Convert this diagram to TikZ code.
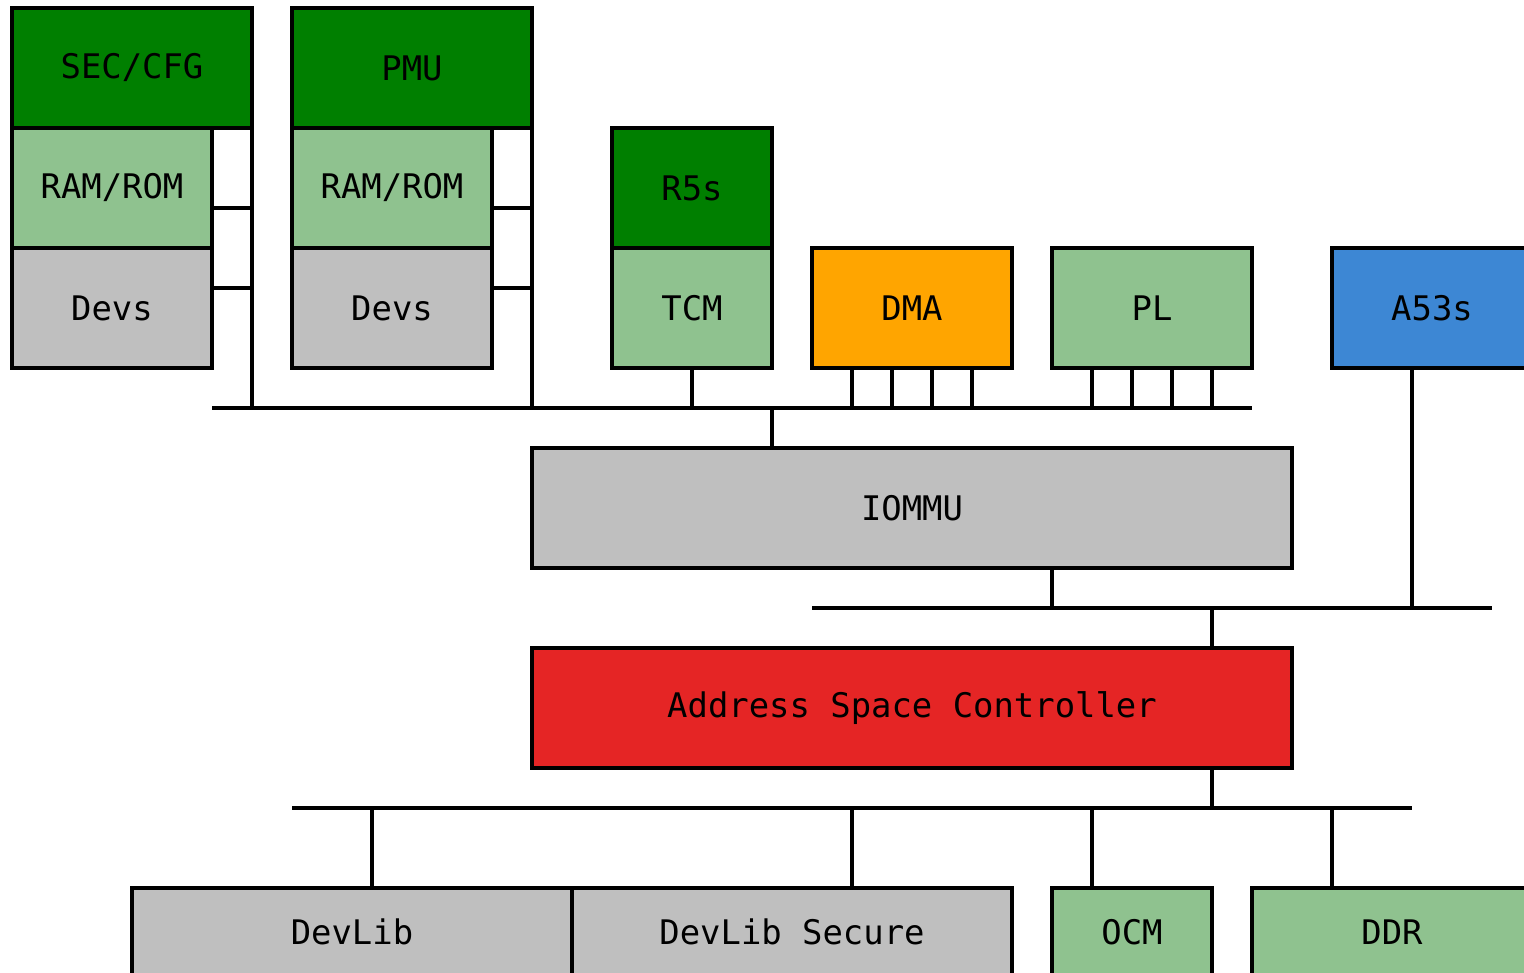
\documentclass[tikz,border=0pt]{standalone}
\usepackage{fontspec}
\setmonofont{DejaVu Sans Mono}
\usetikzlibrary{calc}
\definecolor{secgreen}{HTML}{007F00}
\definecolor{memgreen}{HTML}{8FC28F}
\definecolor{devgray}{HTML}{BFBFBF}
\definecolor{dmaorange}{HTML}{FFA500}
\definecolor{apublue}{HTML}{3D87D4}
\definecolor{ascred}{HTML}{E52525}
\tikzset{
  blk/.style={draw, rectangle, anchor=north west, inner sep=0pt, outer sep=0pt,
    line width=1.1pt, font=\ttfamily\fontsize{12.05}{14}\selectfont},
  wire/.style={line width=1.1pt}
}

\begin{document}
\begin{tikzpicture}[x=0.5cm, y=-0.5cm]
\useasboundingbox (-0.3,-0.2) rectangle (37.8,24.125);
\clip (-0.3,-0.2) rectangle (37.8,24.125);
% Subsystems on the left
    \node[blk, fill=secgreen, minimum width=3cm, minimum height=1.5cm] (sec) at (0,0) {SEC/CFG};
    \node[blk, fill=memgreen, minimum width=2.5cm, minimum height=1.5cm] (ram1) at (0,3) {RAM/ROM};
    \node[blk, fill=devgray, minimum width=2.5cm, minimum height=1.5cm] (devs1) at (0,6) {Devs};
    \node[blk, fill=secgreen, minimum width=3cm, minimum height=1.5cm] (pmu) at (7,0) {PMU};
    \node[blk, fill=memgreen, minimum width=2.5cm, minimum height=1.5cm] (ram2) at (7,3) {RAM/ROM};
    \node[blk, fill=devgray, minimum width=2.5cm, minimum height=1.5cm] (devs2) at (7,6) {Devs};
% Masters
    \node[blk, fill=secgreen, minimum width=2cm, minimum height=1.5cm] (r5s) at (15,3) {R5s};
    \node[blk, fill=memgreen, minimum width=2cm, minimum height=1.5cm] (tcm) at (15,6) {TCM};
    \node[blk, fill=dmaorange, minimum width=2.5cm, minimum height=1.5cm] (dma) at (20,6) {DMA};
    \node[blk, fill=memgreen, minimum width=2.5cm, minimum height=1.5cm] (pl) at (26,6) {PL};
    \node[blk, fill=apublue, minimum width=2.5cm, minimum height=1.5cm] (a53) at (33,6) {A53s};
% Translation and routing
    \node[blk, fill=devgray, minimum width=9.5cm, minimum height=1.5cm] (iommu) at (13,11) {IOMMU};
    \node[blk, fill=ascred, minimum width=9.5cm, minimum height=1.5cm] (asc) at (13,16) {Address Space Controller};
% Targets
    \node[blk, fill=devgray, minimum width=5.5cm, minimum height=1.1cm] (devlib) at (3,22) {DevLib};
    \node[blk, fill=devgray, minimum width=5.5cm, minimum height=1.1cm] (devlibsec) at (14,22) {DevLib Secure};
    \node[blk, fill=memgreen, minimum width=2cm, minimum height=1.1cm] (ocm) at (26,22) {OCM};
    \node[blk, fill=memgreen, minimum width=3.5cm, minimum height=1.1cm] (ddr) at (31,22) {DDR};
% Buses
    \coordinate (busaW) at (5,10);
    \coordinate (busaE) at (31,10);
    \coordinate (busbW) at (20,15);
    \coordinate (busbE) at (37,15);
    \coordinate (buscW) at (7,20);
    \coordinate (buscE) at (35,20);
    \draw[wire] (busaW) -- (busaE);
    \draw[wire] (busbW) -- (busbE);
    \draw[wire] (buscW) -- (buscE);
% Subsystem links
    \draw[wire] (sec.south east) -- (sec.south east |- busaW);
    \draw[wire] (pmu.south east) -- (pmu.south east |- busaW);
    \foreach \n in {ram1,ram2} {
        \draw[wire] ($(\n.north east)+(0,2)$) -- ++(1,0);
        \draw[wire] ($(\n.north east)+(0,4)$) -- ++(1,0);
    }
    \draw[wire] (tcm.south) -- (tcm.south |- busaW);
    \foreach \x in {1,...,4} {
        \draw[wire] ($(dma.south west)+(\x,0)$) -- ($(dma.south west)+(\x,1)$);
        \draw[wire] ($(pl.south west)+(\x,0)$) -- ($(pl.south west)+(\x,1)$);
    }
% Links through IOMMU and ASC
    \draw[wire] ($(iommu.north west)+(6,0)$) -- ($(iommu.north west)+(6,-1)$);
    \draw[wire] ($(iommu.south west)+(13,0)$) -- ($(iommu.south west)+(13,1)$);
    \draw[wire] ($(a53.south west)+(2,0)$) -- ($(a53.south west)+(2,6)$);
    \draw[wire] ($(asc.north west)+(17,0)$) -- ($(asc.north west)+(17,-1)$);
    \draw[wire] ($(asc.south west)+(17,0)$) -- ($(asc.south west)+(17,1)$);
% Target links
    \draw[wire] ($(devlib.north west)+(6,0)$) -- ($(devlib.north west)+(6,-2)$);
    \draw[wire] ($(devlibsec.north west)+(7,0)$) -- ($(devlibsec.north west)+(7,-2)$);
    \draw[wire] ($(ocm.north west)+(1,0)$) -- ($(ocm.north west)+(1,-2)$);
    \draw[wire] ($(ddr.north west)+(2,0)$) -- ($(ddr.north west)+(2,-2)$);
\end{tikzpicture}
\end{document}
